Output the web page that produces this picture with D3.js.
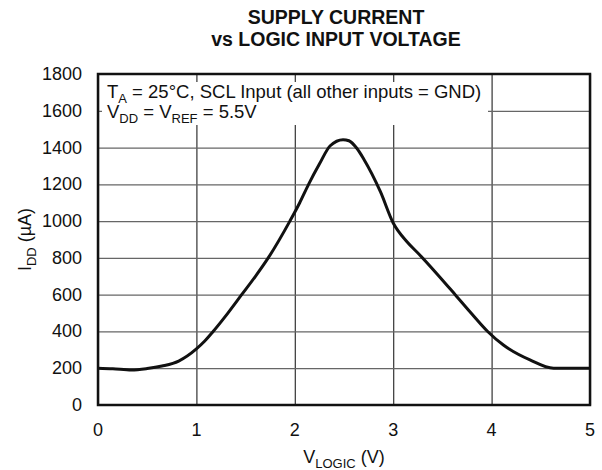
<!DOCTYPE html>
<html>
<head>
<meta charset="utf-8">
<script src="https://cdn.jsdelivr.net/npm/d3@7"></script>
<style>
  body { margin: 0; background: #fff; }
  text { font-family: "Liberation Sans", Arial, sans-serif; fill: #111; }
</style>
</head>
<body>
<script>
// curve: logic voltage (V) vs supply current (uA)
const vLogic = [0, 0.15, 0.34, 0.5, 0.65, 0.82, 1.0, 1.08, 1.17, 1.32, 1.46, 1.6, 1.73, 1.95, 2.05, 2.14, 2.25, 2.36, 2.49, 2.55, 2.63, 2.70, 2.87, 3.0, 3.14, 3.27, 3.45, 3.63, 3.8, 3.96, 4.12, 4.39, 4.63, 4.8, 5.0];
const iDD = [200, 197, 190, 198, 212, 239, 305, 345, 400, 500, 600, 700, 800, 1000, 1100, 1200, 1310, 1410, 1443, 1437, 1396, 1338, 1160, 990, 888, 816, 710, 600, 495, 400, 326, 245, 200, 200, 200];
const xTicks = [0, 1, 2, 3, 4, 5];
const yTicks = [0, 200, 400, 600, 800, 1000, 1200, 1400, 1600, 1800];

const width = 602, height = 470;
const margin = {left: 98, right: 12, top: 74, bottom: 65};

const svg = d3.select('body').append('svg')
    .attr('width', width)
    .attr('height', height);

const x = d3.scaleLinear().domain([0, 5]).range([margin.left, width - margin.right]);
const y = d3.scaleLinear().domain([0, 1800]).range([height - margin.bottom, margin.top]);

// grid
svg.append('g')
    .attr('transform', 'translate(0,' + (height - margin.bottom) + ')')
    .call(d3.axisBottom(x).tickValues(xTicks).tickSize(-(y(0) - y(1800))).tickFormat(''))
    .call(g => g.select('.domain').remove())
    .call(g => g.selectAll('line').attr('stroke', '#333').attr('stroke-width', 1.2));

svg.append('g')
    .attr('transform', 'translate(' + margin.left + ',0)')
    .call(d3.axisLeft(y).tickValues(yTicks).tickSize(-(x(5) - x(0))).tickFormat(''))
    .call(g => g.select('.domain').remove())
    .call(g => g.selectAll('line').attr('stroke', '#666').attr('stroke-width', 1.2));

// tick labels
svg.append('g').selectAll('text')
    .data(xTicks)
    .join('text')
    .attr('x', d => x(d))
    .attr('y', y(0) + 31)
    .attr('text-anchor', 'middle')
    .style('font-size', '18px')
    .text(d => d);

svg.append('g').selectAll('text')
    .data(yTicks)
    .join('text')
    .attr('x', margin.left - 16)
    .attr('y', d => y(d) + 6)
    .attr('text-anchor', 'end')
    .style('font-size', '18px')
    .text(d => d);

// white box behind the conditions text
svg.append('rect')
    .attr('x', x(0) + 4)
    .attr('y', 82)
    .attr('width', 386)
    .attr('height', 43)
    .attr('fill', '#fff');

const note = svg.append('g').style('font-size', '18.5px');
let t1 = note.append('text').attr('x', 107).attr('y', 98);
t1.append('tspan').text('T');
t1.append('tspan').attr('dy', 5).style('font-size', '13px').text('A');
t1.append('tspan').attr('dy', -5).text(' = 25°C, SCL Input (all other inputs = GND)');
let t2 = note.append('text').attr('x', 107).attr('y', 118);
t2.append('tspan').text('V');
t2.append('tspan').attr('dy', 5).style('font-size', '13px').text('DD');
t2.append('tspan').attr('dy', -5).text(' = V');
t2.append('tspan').attr('dy', 5).style('font-size', '13px').text('REF');
t2.append('tspan').attr('dy', -5).text(' = 5.5V');

// curve
const line = d3.line()
    .x(d => x(d[0]))
    .y(d => y(d[1]))
    .curve(d3.curveMonotoneX);

svg.append('path')
    .datum(vLogic.map((v, i) => [v, iDD[i]]))
    .attr('d', line)
    .attr('fill', 'none')
    .attr('stroke', '#111')
    .attr('stroke-width', 3);

// frame
svg.append('rect')
    .attr('x', x(0))
    .attr('y', y(1800))
    .attr('width', x(5) - x(0))
    .attr('height', y(0) - y(1800))
    .attr('fill', 'none')
    .attr('stroke', '#111')
    .attr('stroke-width', 2.5);

// titles
const title = svg.append('g')
    .style('font-size', '19.5px')
    .style('font-weight', 'bold')
    .attr('text-anchor', 'middle');
title.append('text').attr('x', 336).attr('y', 24).text('SUPPLY CURRENT');
title.append('text').attr('x', 336).attr('y', 46).text('vs LOGIC INPUT VOLTAGE');

// axis labels
let xl = svg.append('text')
    .attr('x', (x(0) + x(5)) / 2)
    .attr('y', 463)
    .attr('text-anchor', 'middle')
    .style('font-size', '18px');
xl.append('tspan').text('V');
xl.append('tspan').attr('dy', 5).style('font-size', '13px').text('LOGIC');
xl.append('tspan').attr('dy', -5).text(' (V)');

let yl = svg.append('text')
    .attr('transform', 'translate(31,' + ((y(0) + y(1800)) / 2) + ') rotate(-90)')
    .attr('text-anchor', 'middle')
    .style('font-size', '18px');
yl.append('tspan').text('I');
yl.append('tspan').attr('dy', 5).style('font-size', '13px').text('DD');
yl.append('tspan').attr('dy', -5).text(' (µA)');
</script>
</body>
</html>
